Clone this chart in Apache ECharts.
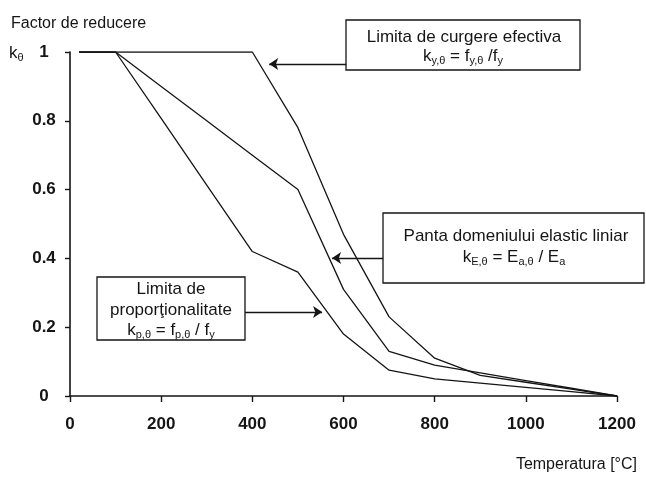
<!DOCTYPE html>
<html>
<head>
<meta charset="utf-8">
<script src="https://cdn.jsdelivr.net/npm/echarts@6/dist/echarts.min.js"></script>
<style>
  html, body { margin: 0; padding: 0; background: #fff; }
  #chart { width: 646px; height: 480px; }
</style>
</head>
<body>
<div id="chart"></div>
<script>
// temperaturi [°C] si factorii de reducere
var temps = [20, 100, 200, 300, 400, 500, 600, 700, 800, 900, 1000, 1100, 1200];
var kY = [1, 1, 1, 1, 1, 0.78, 0.47, 0.23, 0.11, 0.06, 0.04, 0.02, 0];
var kE = [1, 1, 0.9, 0.8, 0.7, 0.6, 0.31, 0.13, 0.09, 0.0675, 0.045, 0.0225, 0];
var kP = [1, 1, 0.807, 0.613, 0.42, 0.36, 0.18, 0.075, 0.05, 0.0375, 0.025, 0.0125, 0];

var xTicks = [0, 200, 400, 600, 800, 1000, 1200];
var yTicks = [0, 0.2, 0.4, 0.6, 0.8, 1];

// sageti: [T start, k start, T varf, k varf]
var arrowY = [606, 0.965, 437, 0.965];
var arrowE = [687, 0.401, 575, 0.401];
var arrowP = [384, 0.244, 553, 0.244];

var FONT = 'Liberation Sans, Arial, sans-serif';
var INK = '#151515';

function pairs(xs, ys) {
    var out = [];
    for (var i = 0; i < xs.length; i++) out.push([xs[i], ys[i]]);
    return out;
}

function arrow(a) {
    return {
        silent: true,
        animation: false,
        symbol: ['none', 'arrow'],
        symbolSize: 9,
        label: { show: false },
        lineStyle: { color: INK, width: 1.3, type: 'solid' },
        data: [[{ coord: [a[0], a[1]] }, { coord: [a[2], a[3]] }]]
    };
}

function lineSeries(name, vals, a) {
    return {
        name: name,
        type: 'line',
        data: pairs(temps, vals),
        symbol: 'none',
        lineStyle: { color: INK, width: 1.3 },
        markLine: arrow(a)
    };
}

var rich = {
    n: { fontSize: 17, fontFamily: FONT, color: INK, lineHeight: 20 },
    s: { fontSize: 11, fontFamily: FONT, color: INK, lineHeight: 11, verticalAlign: 'bottom' }
};

function label(txt, x, y, opt) {
    opt = opt || {};
    return {
        type: 'text',
        x: x, y: y,
        style: {
            text: txt,
            font: (opt.size || 17) + 'px ' + FONT,
            fill: INK,
            align: opt.align || 'center',
            textAlign: opt.align || 'center',
            verticalAlign: 'middle',
            textVerticalAlign: 'middle',
            rich: rich
        }
    };
}

function box(x, y, w, h) {
    return {
        type: 'rect',
        shape: { x: x, y: y, width: w, height: h },
        style: { fill: '#fff', stroke: INK, lineWidth: 1.3 }
    };
}

var chart = echarts.init(document.getElementById('chart'), null, { renderer: 'canvas' });
chart.setOption({
    animation: false,
    backgroundColor: '#fff',
    grid: { left: 70, right: 29, top: 52, bottom: 84, outerBoundsMode: 'none' },
    xAxis: {
        type: 'value',
        min: 0,
        max: 1200,
        interval: 200,
        splitLine: { show: false },
        axisLine: { lineStyle: { color: INK, width: 1.6 } },
        axisTick: { length: 6, lineStyle: { color: INK, width: 1.4 } },
        axisLabel: {
            margin: 20,
            fontSize: 17,
            fontWeight: 'bold',
            fontFamily: FONT,
            color: INK,
            customValues: xTicks,
            formatter: function (v) { return String(v); }
        }
    },
    yAxis: {
        type: 'value',
        min: 0,
        max: 1,
        interval: 0.2,
        splitLine: { show: false },
        axisLine: { show: true, lineStyle: { color: INK, width: 1.6 } },
        axisTick: { show: true, length: 5, lineStyle: { color: INK, width: 1.4 } },
        axisLabel: {
            margin: 26,
            align: 'center',
            fontSize: 17,
            fontWeight: 'bold',
            fontFamily: FONT,
            color: INK,
            customValues: yTicks,
            formatter: function (v) { return String(v); }
        }
    },
    series: [
        lineSeries('ky', kY, arrowY),
        lineSeries('kE', kE, arrowE),
        lineSeries('kp', kP, arrowP)
    ],
    graphic: [
        label('Factor de reducere', 11, 24, { align: 'left', size: 16 }),
        label('{n|k}{s|θ}', 9, 53, { align: 'left' }),
        label('Temperatura [°C]', 637, 465, { align: 'right', size: 16 }),

        box(346, 20, 234, 50),
        label('Limita de curgere efectiva', 464, 37),
        label('{n|k}{s|y,θ}{n| = f}{s|y,θ}{n| /f}{s|y}', 463, 56),

        box(383, 213, 261, 70),
        label('Panta domeniului elastic liniar', 516, 236),
        label('{n|k}{s|E,θ}{n| = E}{s|a,θ}{n| / E}{s|a}', 514, 257),

        box(97, 277, 148, 63),
        label('Limita de', 171, 289),
        label('proporţionalitate', 171, 310),
        label('{n|k}{s|p,θ}{n| = f}{s|p,θ}{n| / f}{s|y}', 171, 330)
    ]
});
</script>
</body>
</html>
